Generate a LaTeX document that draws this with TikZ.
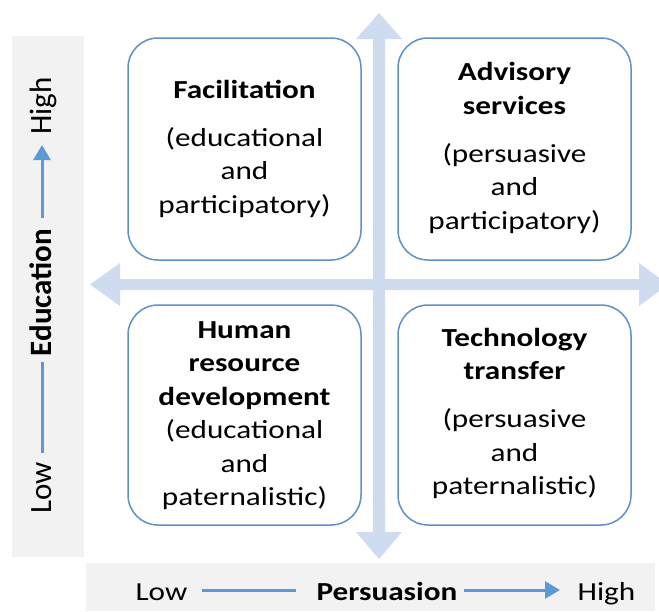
\documentclass[tikz,border=0pt]{standalone}
\usepackage{fontspec}
\setmainfont[FakeStretch=1.2]{Carlito}
\newfontfamily\rotfont{Carlito}
\usetikzlibrary{arrows.meta}
\definecolor{arrowfill}{HTML}{CFDCEF}
\definecolor{boxline}{HTML}{5F90C8}
\definecolor{axisline}{HTML}{5B9BD5}
\definecolor{panelgray}{HTML}{F2F2F2}
\begin{document}
\begin{tikzpicture}[x=1pt,y=-1pt,
  quad/.style={draw=boxline, line width=1.5pt, fill=white, rounded corners=30pt,
    minimum width=233pt, inner sep=0pt},
  qtext/.style={anchor=base, align=center, inner sep=0pt,
    font=\fontsize{26}{33.5}\selectfont},
  rottext/.style={rotate=90, anchor=base, inner sep=0pt,
    font=\fontsize{31}{31}\rotfont},
  axtext/.style={anchor=base, inner sep=0pt, font=\fontsize{26}{30}\selectfont},
  axline/.style={draw=axisline, line width=3pt},
  axarrow/.style={axline, -{Triangle[length=15pt,width=17pt]}}
]
\useasboundingbox (0,0) rectangle (659,611);
\fill[white] (0,0) rectangle (659,611);
% panels
\fill[panelgray] (12,36) rectangle (84,557);
\fill[panelgray] (86,563) rectangle (655,611);
% cross arrows
\fill[arrowfill] (373,39) -- (356,39) -- (379,13) -- (402,39) -- (385,39) -- (385,532)
  -- (402,532) -- (379,559) -- (356,532) -- (373,532) -- cycle;
\fill[arrowfill] (120,279) -- (120,263) -- (90,284.5) -- (120,306) -- (120,290) -- (639,290)
  -- (639,306) -- (668,284.5) -- (639,263) -- (639,279) -- cycle;
% boxes
\node[quad, minimum height=222pt] (tl) at (244.5,149) {};
\node[quad, minimum height=222pt] (tr) at (514.5,149) {};
\node[quad, minimum height=220pt] (bl) at (244.5,415) {};
\node[quad, minimum height=220pt] (br) at (514.5,415) {};
% texts (base anchor = baseline of the last line)
\node[qtext] (tltext) at (244.5,213) {\textbf{Facilitation}\\[14.5pt](educational\\and\\participatory)};
\node[qtext] (trtext) at (514.5,229) {\textbf{Advisory}\\\textbf{services}\\[14.5pt](persuasive\\and\\participatory)};
\node[qtext] (bltext) at (244.5,505.5) {\textbf{Human}\\\textbf{resource}\\\textbf{development}\\(educational\\and\\paternalistic)};
\node[qtext] (brtext) at (514.5,494.5) {\textbf{Technology}\\\textbf{transfer}\\[14.5pt](persuasive\\and\\paternalistic)};
% left axis
\node[rottext] (elow) at (51,488) {Low};
\node[rottext] (eedu) at (51,292.5) {\textbf{Education}};
\node[rottext] (ehigh) at (51,106) {High};
\coordinate (ea) at (42,453);
\coordinate (eb) at (42,362);
\coordinate (ec) at (42,218);
\coordinate (ed) at (42,145);
\draw[axline] (ea) -- (eb);
\draw[axarrow] (ec) -- (ed);
% bottom axis
\node[axtext] (plow) at (161.5,600) {Low};
\node[axtext] (ppers) at (387,600) {\textbf{Persuasion}};
\node[axtext] (phigh) at (606.5,600) {High};
\coordinate (pa) at (202,590);
\coordinate (pb) at (296,590);
\coordinate (pc) at (464,590);
\coordinate (pd) at (560,590);
\draw[axline] (pa) -- (pb);
\draw[axarrow] (pc) -- (pd);
\end{tikzpicture}
\end{document}
